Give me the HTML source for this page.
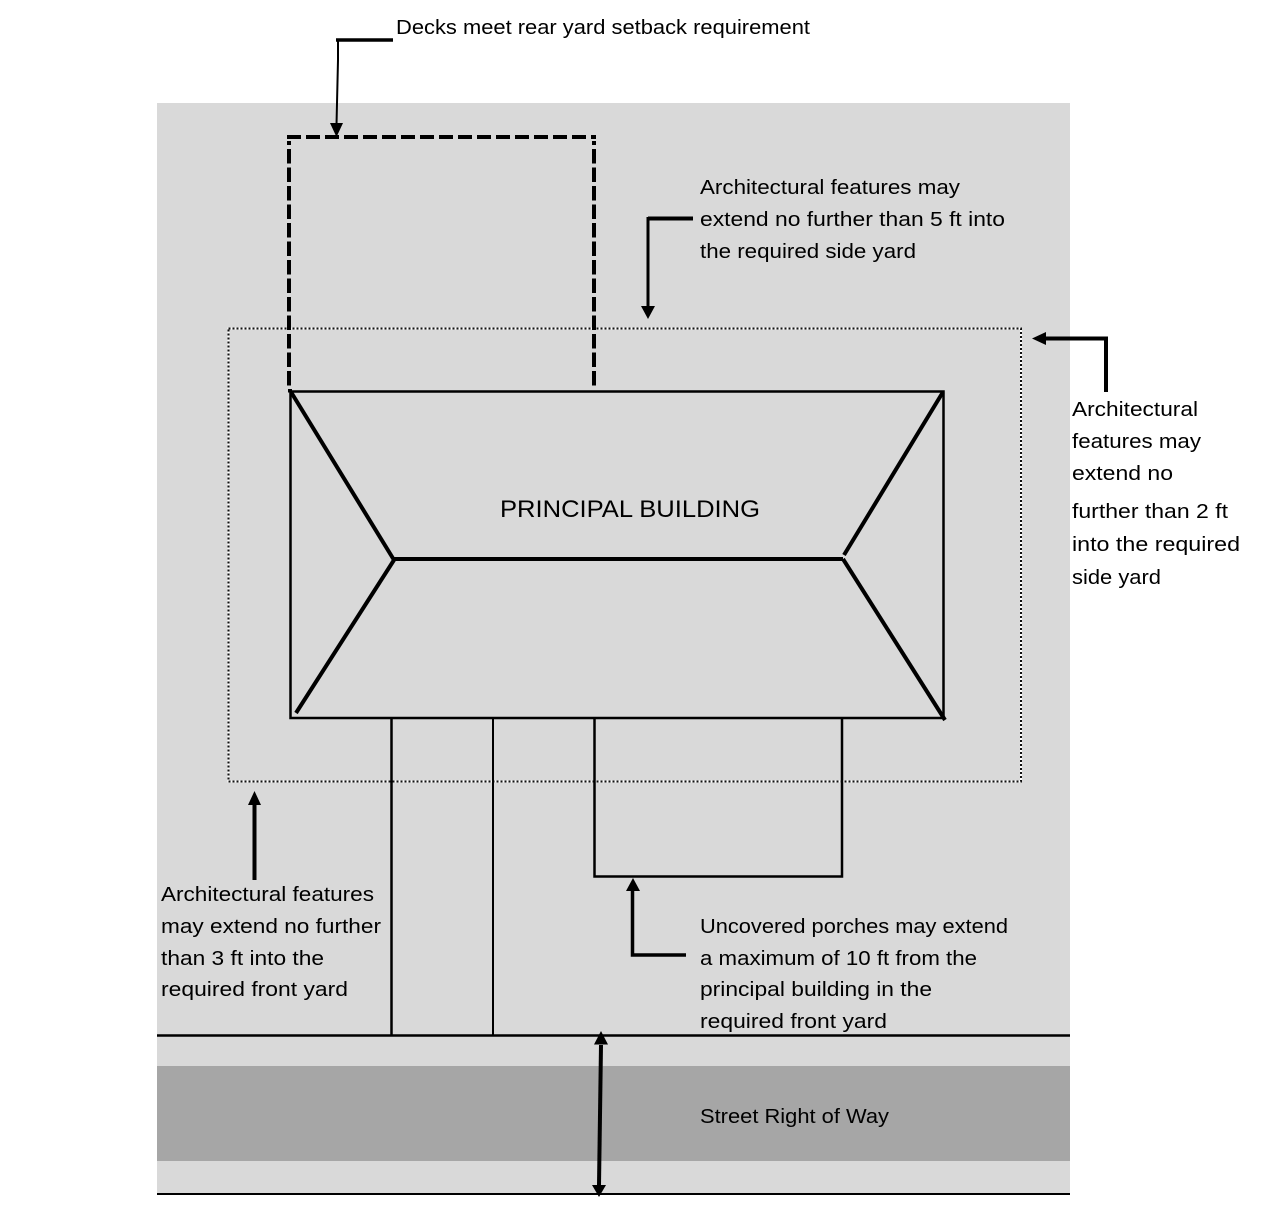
<!DOCTYPE html>
<html>
<head>
<meta charset="utf-8">
<style>
html,body{margin:0;padding:0;background:#fff}
svg{display:block}
text{font-family:"Liberation Sans",sans-serif;font-size:20px;fill:#000}
</style>
</head>
<body>
<svg width="1281" height="1217" viewBox="0 0 1281 1217" xmlns="http://www.w3.org/2000/svg">
<rect width="1281" height="1217" fill="#fff"/>
<rect x="157" y="103" width="913" height="1091" fill="#d9d9d9"/>
<rect x="157" y="1066" width="913" height="95" fill="#a6a6a6"/>

<!-- dotted envelope -->
<rect x="228.500" y="328.500" width="792.500" height="453" fill="none" stroke="#fff" stroke-width="2"/>
<rect x="228.500" y="328.500" width="792.500" height="453" fill="none" stroke="#111" stroke-width="2" stroke-dasharray="2 2"/>

<!-- deck -->
<path d="M287 137H596" fill="none" stroke="#000" stroke-width="4" stroke-dasharray="14 5"/>
<path d="M289 385.500V141" fill="none" stroke="#000" stroke-width="4" stroke-dasharray="14.500 4"/>
<path d="M594 385.500V141" fill="none" stroke="#000" stroke-width="4" stroke-dasharray="14.500 4"/>
<rect x="288" y="389" width="4" height="3.500" fill="#000"/>

<!-- building -->
<rect x="290.500" y="391.500" width="653" height="326.500" fill="none" stroke="#000" stroke-width="2.500"/>
<g stroke="#000" stroke-width="4" fill="none">
<path d="M291 392L394 560"/>
<path d="M394 559H843"/>
<path d="M394 560L296 713"/>
<path d="M943 392L844 555"/>
<path d="M843 559L945 720"/>
</g>

<!-- walkway and porch -->
<path d="M391.500 718V1035" stroke="#000" stroke-width="2.500" fill="none"/>
<path d="M493 718V1035" stroke="#000" stroke-width="2" fill="none"/>
<path d="M594.500 718V876.500H842V718" stroke="#000" stroke-width="2.500" fill="none"/>

<!-- ROW lines -->
<path d="M157 1035.500H1070" stroke="#000" stroke-width="2.500"/>
<path d="M157 1194H1070" stroke="#000" stroke-width="2"/>

<!-- leaders -->
<g fill="none" stroke="#000">
<path d="M393 40H336" stroke-width="3.500"/>
<path d="M338 40V60L336.500 125" stroke-width="2"/>
<path d="M693 218.500H648" stroke-width="4"/>
<path d="M648 217V307" stroke-width="3"/>
<path d="M1106 392V338.500H1045" stroke-width="4"/>
<path d="M254.500 880V805" stroke-width="4"/>
<path d="M686 955H632.500V890" stroke-width="3.500"/>
<path d="M601 1045L599 1185" stroke-width="4"/>
</g>
<g fill="#000">
<path d="M330 123H343L336.500 137Z"/>
<path d="M641 306H655L648 319Z"/>
<path d="M1032 338.500L1046 332V345Z"/>
<path d="M248 805H261L254.500 791Z"/>
<path d="M626 891H640L633 878Z"/>
<path d="M594 1044.500H608L601 1031Z"/>
<path d="M592 1185H606L599 1197Z"/>
</g>

<!-- labels -->
<text x="396" y="34" textLength="414" lengthAdjust="spacingAndGlyphs">Decks meet rear yard setback requirement</text>
<text x="700" y="194" textLength="260" lengthAdjust="spacingAndGlyphs">Architectural features may</text>
<text x="700" y="226" textLength="305" lengthAdjust="spacingAndGlyphs">extend no further than 5 ft into</text>
<text x="700" y="258" textLength="216" lengthAdjust="spacingAndGlyphs">the required side yard</text>

<text x="1072" y="416" textLength="126" lengthAdjust="spacingAndGlyphs">Architectural</text>
<text x="1072" y="448" textLength="129" lengthAdjust="spacingAndGlyphs">features may</text>
<text x="1072" y="480" textLength="101" lengthAdjust="spacingAndGlyphs">extend no</text>
<text x="1072" y="518" textLength="156" lengthAdjust="spacingAndGlyphs">further than 2 ft</text>
<text x="1072" y="551" textLength="168" lengthAdjust="spacingAndGlyphs">into the required</text>
<text x="1072" y="584" textLength="89" lengthAdjust="spacingAndGlyphs">side yard</text>

<text x="500" y="517" textLength="260" lengthAdjust="spacingAndGlyphs" style="font-size:24px">PRINCIPAL BUILDING</text>

<text x="161" y="901" textLength="213" lengthAdjust="spacingAndGlyphs">Architectural features</text>
<text x="161" y="933" textLength="220" lengthAdjust="spacingAndGlyphs">may extend no further</text>
<text x="161" y="965" textLength="163" lengthAdjust="spacingAndGlyphs">than 3 ft into the</text>
<text x="161" y="996" textLength="187" lengthAdjust="spacingAndGlyphs">required front yard</text>

<text x="700" y="933" textLength="308" lengthAdjust="spacingAndGlyphs">Uncovered porches may extend</text>
<text x="700" y="965" textLength="277" lengthAdjust="spacingAndGlyphs">a maximum of 10 ft from the</text>
<text x="700" y="996" textLength="232" lengthAdjust="spacingAndGlyphs">principal building in the</text>
<text x="700" y="1028" textLength="187" lengthAdjust="spacingAndGlyphs">required front yard</text>

<text x="700" y="1123" textLength="189" lengthAdjust="spacingAndGlyphs">Street Right of Way</text>
</svg>
</body>
</html>
